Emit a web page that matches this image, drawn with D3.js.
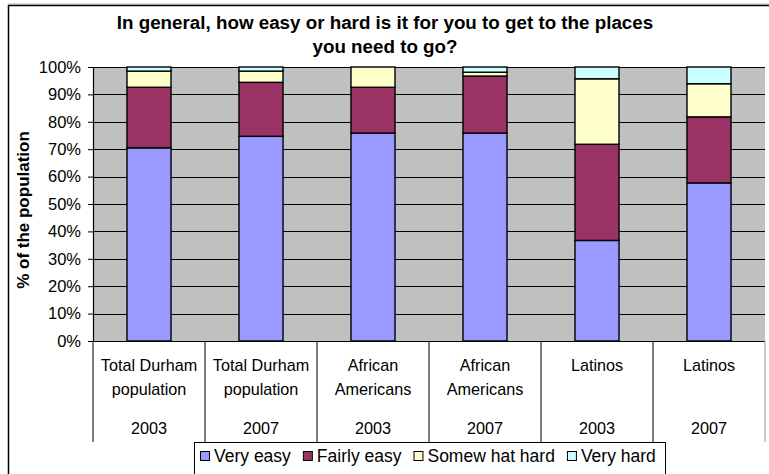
<!DOCTYPE html>
<html lang="en">
<head>
<meta charset="UTF-8">
<title>How easy or hard to get places</title>
<style>
  body { margin: 0; background: #fff; }
  svg { display: block; font-family: "Liberation Sans", Arial, sans-serif; }
</style>
<script src="https://d3js.org/d3.v7.min.js"></script>
</head>
<body>
<svg width="769" height="474"></svg>
<script>
// categories (two label lines + year)
const groups = ["Total Durham population", "Total Durham population", "African Americans",
                "African Americans", "Latinos", "Latinos"];
const groupLines = [["Total Durham", "population"], ["Total Durham", "population"],
                    ["African", "Americans"], ["African", "Americans"], ["Latinos"], ["Latinos"]];
const years = ["2003", "2007", "2003", "2007", "2003", "2007"];

// series values (% of population)
const veryEasy     = [70.5, 74.7, 75.9, 75.9, 36.7, 57.7];
const fairlyEasy   = [22.1, 19.7, 16.7, 20.8, 35.1, 24.1];
const somewhatHard = [5.9, 4.1, 7.4, 1.4, 23.9, 12.1];
const veryHard     = [1.5, 1.5, 0, 1.9, 4.3, 6.1];

const seriesNames = ["Very easy", "Fairly easy", "Somew hat hard", "Very hard"];
const colors = ["#9999FF", "#993366", "#FFFFCC", "#CCFFFF"];
const yTicks = [0, 10, 20, 30, 40, 50, 60, 70, 80, 90, 100];

const svg = d3.select("svg");
const plot = { left: 93, right: 765, top: 67, bottom: 341 };

// outer frame
svg.append("line").attr("x1", 8).attr("x2", 769).attr("y1", 4).attr("y2", 4)
  .attr("stroke", "#bbb").attr("stroke-width", 1);
svg.append("rect").attr("x", 8.5).attr("y", 5.5).attr("width", 800).attr("height", 500)
  .attr("fill", "none").attr("stroke", "#000").attr("stroke-width", 1.5);

const idx = d3.range(groups.length);
const x = d3.scaleBand().domain(idx).range([plot.left, plot.right]).padding(0);
const y = d3.scaleLinear().domain([0, 100]).range([plot.bottom, plot.top]);

// plot background
svg.append("rect")
  .attr("x", plot.left).attr("y", plot.top)
  .attr("width", plot.right - plot.left).attr("height", plot.bottom - plot.top)
  .attr("fill", "#C0C0C0");

// gridlines
svg.append("g").selectAll("line")
  .data(yTicks.filter(d => d > 0))
  .join("line")
  .attr("x1", plot.left).attr("x2", plot.right)
  .attr("y1", d => Math.round(y(d)) + 0.5).attr("y2", d => Math.round(y(d)) + 0.5)
  .attr("stroke", "#000").attr("stroke-width", 1);

// stacked bars
const table = idx.map(i => ({ i, a: veryEasy[i], b: fairlyEasy[i], c: somewhatHard[i], d: veryHard[i] }));
const stack = d3.stack().keys(["a", "b", "c", "d"])(table);
const barW = x.bandwidth() * 0.393;

svg.append("g").selectAll("g")
  .data(stack)
  .join("g")
  .attr("fill", (s, k) => colors[k])
  .selectAll("rect")
  .data(s => s.filter(p => p[1] - p[0] > 0))
  .join("rect")
  .attr("x", p => x(p.data.i) + (x.bandwidth() - barW) / 2)
  .attr("y", p => y(p[1]))
  .attr("width", barW)
  .attr("height", p => y(p[0]) - y(p[1]))
  .attr("stroke", "#000")
  .attr("stroke-width", 1.4);

// y axis
const yAxis = svg.append("g")
  .attr("transform", `translate(${plot.left},0)`)
  .call(d3.axisLeft(y).tickValues(yTicks).tickFormat(d => d + "%").tickSize(5).tickPadding(7));
yAxis.select(".domain").attr("stroke", "#000").attr("stroke-width", 1.2);
yAxis.selectAll(".tick line").attr("stroke", "#000");
yAxis.selectAll("text").attr("font-size", 16.5).attr("fill", "#000")
  .attr("font-family", "'Liberation Sans', Arial, sans-serif");

// x axis line
svg.append("line")
  .attr("x1", plot.left).attr("x2", plot.right)
  .attr("y1", plot.bottom + 0.5).attr("y2", plot.bottom + 0.5)
  .attr("stroke", "#000").attr("stroke-width", 1.2);

// category table lines
const bounds = idx.map(i => x(i)).concat([plot.right]);
svg.append("g").selectAll("line")
  .data(bounds)
  .join("line")
  .attr("x1", d => d).attr("x2", d => d)
  .attr("y1", plot.bottom).attr("y2", 442)
  .attr("stroke", (d, k) => k === bounds.length - 1 ? "#999" : "#000")
  .attr("stroke-width", 1);

// category labels
const cat = svg.append("g").attr("font-size", 16.2).attr("text-anchor", "middle").attr("fill", "#000");
idx.forEach(i => {
  const cx = x(i) + x.bandwidth() / 2;
  groupLines[i].forEach((t, k) => {
    cat.append("text").attr("x", cx).attr("y", 371 + k * 24).text(t);
  });
  cat.append("text").attr("x", cx).attr("y", 434).text(years[i]);
});

// title
const title = svg.append("g").attr("font-size", 18.8).attr("font-weight", "bold").attr("text-anchor", "middle");
title.append("text").attr("x", 385).attr("y", 29).text("In general, how easy or hard is it for you to get to the places");
title.append("text").attr("x", 385).attr("y", 53).text("you need to go?");

// y axis title
svg.append("text")
  .attr("transform", "translate(29,210) rotate(-90)")
  .attr("text-anchor", "middle")
  .attr("font-size", 17)
  .attr("font-weight", "bold")
  .text("% of the population");

// legend
const legend = svg.append("g");
legend.append("rect").attr("x", 194.5).attr("y", 442.5).attr("width", 471).attr("height", 40)
  .attr("fill", "#fff").attr("stroke", "#000").attr("stroke-width", 1);
let lx = 200;
seriesNames.forEach((name, k) => {
  legend.append("rect").attr("x", lx + 0.5).attr("y", 451.5).attr("width", 9).attr("height", 9)
    .attr("fill", colors[k]).attr("stroke", "#000").attr("stroke-width", 1);
  const t = legend.append("text").attr("x", lx + 14).attr("y", 462).attr("font-size", 17.5).text(name);
  lx += 14 + t.node().getComputedTextLength() + 12;
});
</script>
</body>
</html>
